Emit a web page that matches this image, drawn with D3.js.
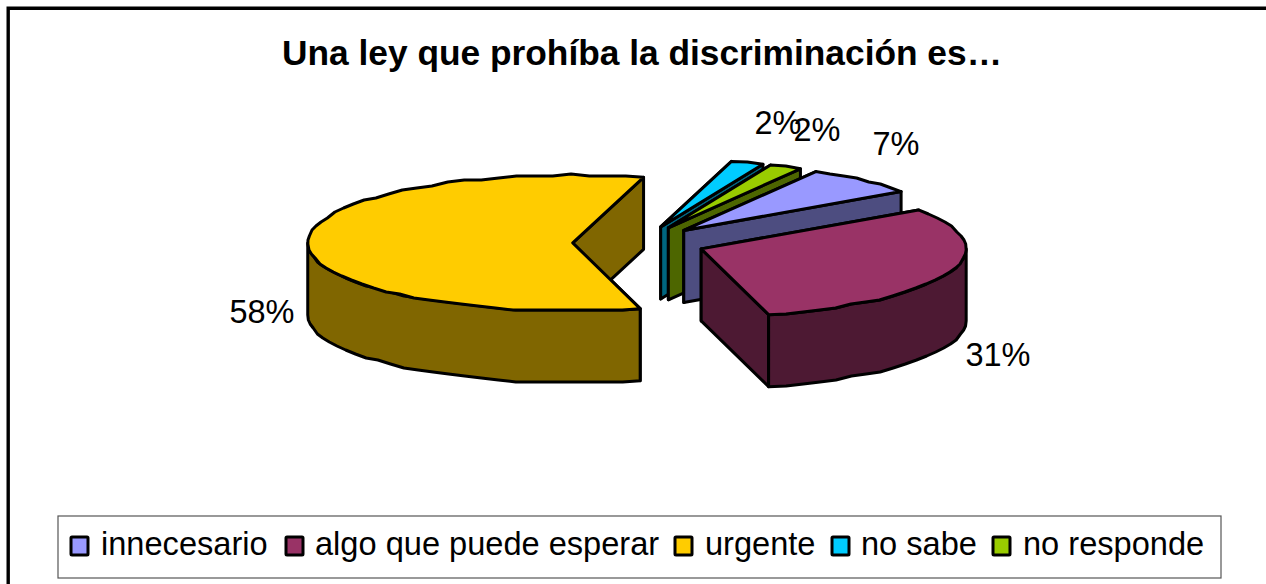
<!DOCTYPE html>
<html><head><meta charset="utf-8">
<script src="https://cdn.jsdelivr.net/npm/d3@7/dist/d3.min.js"></script>
<style>html,body{margin:0;padding:0;background:#fff}svg{display:block}text{font-family:"Liberation Sans",Arial,sans-serif;fill:#000}</style>
</head><body><svg id="c" width="1266" height="584"></svg>
<script>
const titleText = "Una ley que prohíba la discriminación es…";
const categories = ["innecesario","algo que puede esperar","urgente","no sabe","no responde"];
const values = [7,30.6,58.4,2,2];
const topColors = ["#9999FF","#993366","#FFCC00","#00CCFF","#99CC00"];
const sideColors = ["#4D4D80","#4D1933","#806600","#006680","#4D6600"];
const paintOrder = [3,4,0,1,2];

const svg=d3.select("#c");
svg.append("path").attr("d","M8.2,584V8.2H1266").attr("fill","none").attr("stroke","#000").attr("stroke-width",3.4);
svg.append("text").attr("x",642).attr("y",65).attr("text-anchor","middle").attr("font-weight","bold").attr("font-size",35.3).text(titleText);

const cx=639,cy=243,rx=265,ry=68,depth=72,explode=0.25;
const deg=Math.PI/180;
const pie=d3.pie().sort(null).value(d=>d).startAngle(29.9*deg).endAngle(389.9*deg);
const arcs=pie(values);
const xs=d3.scaleLinear().domain([-1,1]).range([-rx,rx]);
const ys=d3.scaleLinear().domain([-1,1]).range([ry,-ry]);
function P(o,a,r,dz){return [o[0]+xs(r*Math.sin(a)),o[1]+ys(r*Math.cos(a))+dz];}
function snap(p){return [p[0],Math.round(p[1]/2)*2];}
function arcPts(o,a0,a1,dz){
  const n=Math.max(1,Math.ceil((a1-a0)/(4*deg))),pts=[];
  for(let i=0;i<=n;i++){const p=P(o,a0+(a1-a0)*i/n,1,dz);pts.push(i==0||i==n?p:snap(p));}
  return pts;
}
const line=d3.line().curve(d3.curveLinearClosed);
function poly(pts,fill){svg.append("path").attr("d",line(pts)).attr("fill",fill).attr("stroke","#000").attr("stroke-width",3).attr("stroke-linejoin","round");}
paintOrder.forEach(i=>{
  const d=arcs[i],mid=(d.startAngle+d.endAngle)/2;
  const o=P([cx,cy],mid,explode,0);
  const rad=a=>{const e=P(o,a,1,0);return [o,e,[e[0],e[1]+depth],[o[0],o[1]+depth]];};
  poly(rad(d.startAngle),sideColors[i]);
  poly(rad(d.endAngle),sideColors[i]);
  const wa0=Math.max(d.startAngle,90*deg),wa1=Math.min(d.endAngle,270*deg);
  if(wa1>wa0){
    const upper=arcPts(o,wa0,wa1,0),lower=arcPts(o,wa0,wa1,depth).reverse();
    poly(upper.concat(lower),sideColors[i]);
  }
  poly([o].concat(arcPts(o,d.startAngle,d.endAngle,0)),topColors[i]);
});

// percentage labels
const pct=d3.format(".0%"),total=d3.sum(values);
const labelPos=[[896,155],[998,366],[262,323],[778,134],[817,141]];
arcs.forEach((d,i)=>svg.append("text").attr("x",labelPos[i][0]).attr("y",labelPos[i][1]).attr("text-anchor","middle").attr("font-size",32.5).text(pct(d.data/total)));

// legend
svg.append("rect").attr("x",58).attr("y",516).attr("width",1163).attr("height",62).attr("fill","#fff").attr("stroke","#555").attr("stroke-width",1.2);
const swatchX=[71,286,675,832,993];
const legendTextX=[101,315,705,861,1023];
categories.forEach((c,i)=>{
  svg.append("rect").attr("x",swatchX[i]).attr("y",537).attr("width",17).attr("height",18).attr("fill",topColors[i]).attr("stroke","#000").attr("stroke-width",3).attr("rx",1);
  svg.append("text").attr("x",legendTextX[i]).attr("y",555).attr("font-size",32.6).text(c);
});
</script></body></html>
